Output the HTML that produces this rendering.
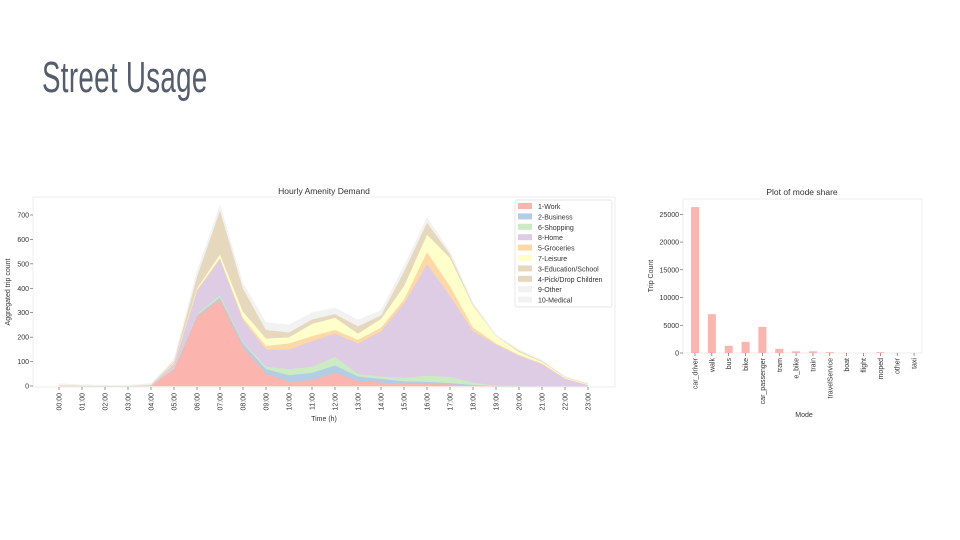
<!DOCTYPE html>
<html><head><meta charset="utf-8"><style>
body{margin:0;width:960px;height:540px;background:#fff;overflow:hidden;font-family:"Liberation Sans",sans-serif}
#title{position:absolute;left:42px;top:53px;font-size:44px;color:#535d6d;transform:scaleX(0.63);transform-origin:left top;white-space:nowrap;letter-spacing:0.5px}
svg{position:absolute;left:0;top:0}
text{font-family:"Liberation Sans",sans-serif;fill:#333}
</style></head><body>
<div id="title">Street Usage</div>
<svg id="chart" width="960" height="540"></svg>
<script>
const hours=["00:00","01:00","02:00","03:00","04:00","05:00","06:00","07:00","08:00","09:00","10:00","11:00","12:00","13:00","14:00","15:00","16:00","17:00","18:00","19:00","20:00","21:00","22:00","23:00"];
const layerNames=["1-Work","2-Business","6-Shopping","8-Home","5-Groceries","7-Leisure","3-Education/School","4-Pick/Drop Children","9-Other","10-Medical"];
const work=[0,0,0,0,2,70,285,355,160,50,20,25,55,20,15,10,10,8,3,0,0,0,0,0];
const business=[0,0,0,0,0,2,5,8,15,20,25,30,30,20,15,10,8,5,2,0,0,0,0,0];
const shopping=[0,0,0,0,0,3,5,10,5,10,25,25,35,10,10,15,25,25,10,3,2,0,0,0];
const home=[0,0,0,0,1,15,95,147,90,70,80,105,95,125,185,305,457,332,210,167,123,90,30,5];
const groceries=[0,0,0,0,0,5,5,5,10,15,25,20,15,15,15,15,50,40,15,5,3,3,2,0];
const leisure=[0,0,0,0,0,2,5,15,25,30,25,50,50,25,35,55,70,115,90,30,12,7,3,3];
const education=[0,0,0,0,1,3,45,175,90,30,15,13,10,25,10,55,45,10,3,0,3,2,1,1];
const pickdrop=[3,2,1,1,2,3,5,5,5,5,5,5,5,5,5,5,5,5,2,0,2,1,1,1];
const other=[4,2,1,1,2,3,10,10,10,15,15,15,15,15,10,10,10,5,3,3,3,1,1,1];
const medical=[3,1,1,1,2,4,10,10,10,15,15,12,10,10,10,10,10,5,2,2,2,1,2,1];
const yTicks1=[0,100,200,300,400,500,600,700];
const modes=["car_driver","walk","bus","bike","car_passenger","tram","e_bike","train","travelService","boat","flight","moped","other","taxi"];
const modeCounts=[26300,7000,1300,2000,4700,750,300,300,150,20,10,150,10,10];
const yTicks2=[0,5000,10000,15000,20000,25000];

const layers=[work,business,shopping,home,groceries,leisure,education,pickdrop,other,medical];
const colors=["#fbb4ae","#b3cde3","#ccebc5","#decbe4","#fed9a6","#ffffcc","#e5d8bd","#e5d8bd","#f2f2f2","#f2f2f2"];
const NS="http://www.w3.org/2000/svg";
const svg=document.getElementById('chart');
function mk(tag,attrs,parent){const e=document.createElementNS(NS,tag);for(const k in attrs)e.setAttribute(k,attrs[k]);(parent||svg).appendChild(e);return e;}
// chart 1
const x1=i=>59+i*23.0;
const y1=v=>386-v*0.2443;
let g1=mk('g',{});


let fr=mk('rect',{x:33,y:197,width:582,height:190,fill:'none',stroke:'#eee'},g1);

let t=mk('text',{x:324,y:194,'font-size':8.5,'text-anchor':'middle'},g1);t.textContent="Hourly Amenity Demand";

let base=hours.map(()=>0);
layers.forEach((L,li)=>{
  const top=base.map((b,i)=>b+L[i]);
  let d="M"+top.map((v,i)=>x1(i)+","+y1(v)).join(" L");
  for(let i=hours.length-1;i>=0;i--)d+=" L"+x1(i)+","+y1(base[i]);
  const p=mk('path',{d:d+"Z",fill:colors[li],stroke:colors[li],'stroke-width':0.5},g1);
  
  
  base=top;
});
yTicks1.forEach(v=>{
  mk('line',{x1:30,x2:33,y1:y1(v),y2:y1(v),stroke:'#555','stroke-width':0.6},g1);
  const tt=mk('text',{x:29,y:y1(v)+2.5,'font-size':7,'text-anchor':'end'},g1);tt.textContent=v;
  
});
hours.forEach((h,i)=>{
  mk('line',{x1:x1(i),x2:x1(i),y1:387,y2:390,stroke:'#555','stroke-width':0.6},g1);
  const tt=mk('text',{x:0,y:0,'font-size':7,'text-anchor':'end',transform:`translate(${x1(i)+2.5},393) rotate(-90)`},g1);tt.textContent=h;
  
});
t=mk('text',{x:324,y:421,'font-size':7,'text-anchor':'middle'},g1);t.textContent="Time (h)";

t=mk('text',{x:0,y:0,'font-size':7,'text-anchor':'middle',transform:'translate(10,292) rotate(-90)'},g1);t.textContent="Aggregated trip count";

let lg=mk('g',{},g1);

mk('rect',{x:515,y:200,width:97,height:107,fill:'#fff',stroke:'#ddd','stroke-width':0.7,rx:2},lg);
layerNames.forEach((n,i)=>{
  const yy=203+i*10.4;
  mk('rect',{x:518,y:yy,width:14,height:6,fill:colors[i]},lg);
  const tt=mk('text',{x:538,y:yy+6,'font-size':7},lg);tt.textContent=n;
  
});
// chart 2
const x2=i=>695+i*16.85;
const y2=v=>353-v*0.005548;
let g2=mk('g',{});


fr=mk('rect',{x:683,y:199,width:239,height:154,fill:'none',stroke:'#eee'},g2);

t=mk('text',{x:802,y:195,'font-size':8.5,'text-anchor':'middle'},g2);t.textContent="Plot of mode share";

modeCounts.forEach((v,i)=>{
  const r=mk('rect',{x:x2(i)-4,y:y2(v),width:8,height:353-y2(v),fill:'#fbb4ae'},g2);
  
  mk('line',{x1:x2(i),x2:x2(i),y1:353,y2:356,stroke:'#555','stroke-width':0.6},g2);
  const tt=mk('text',{x:0,y:0,'font-size':7,'text-anchor':'end',transform:`translate(${x2(i)+2.5},358) rotate(-90)`},g2);tt.textContent=modes[i];
  
});
yTicks2.forEach(v=>{
  mk('line',{x1:680,x2:683,y1:y2(v),y2:y2(v),stroke:'#555','stroke-width':0.6},g2);
  const tt=mk('text',{x:679,y:y2(v)+2.5,'font-size':7,'text-anchor':'end'},g2);tt.textContent=v;
  
});
t=mk('text',{x:804,y:417,'font-size':7,'text-anchor':'middle'},g2);t.textContent="Mode";

t=mk('text',{x:0,y:0,'font-size':7,'text-anchor':'middle',transform:'translate(653,276) rotate(-90)'},g2);t.textContent="Trip Count";

</script>
</body></html>
